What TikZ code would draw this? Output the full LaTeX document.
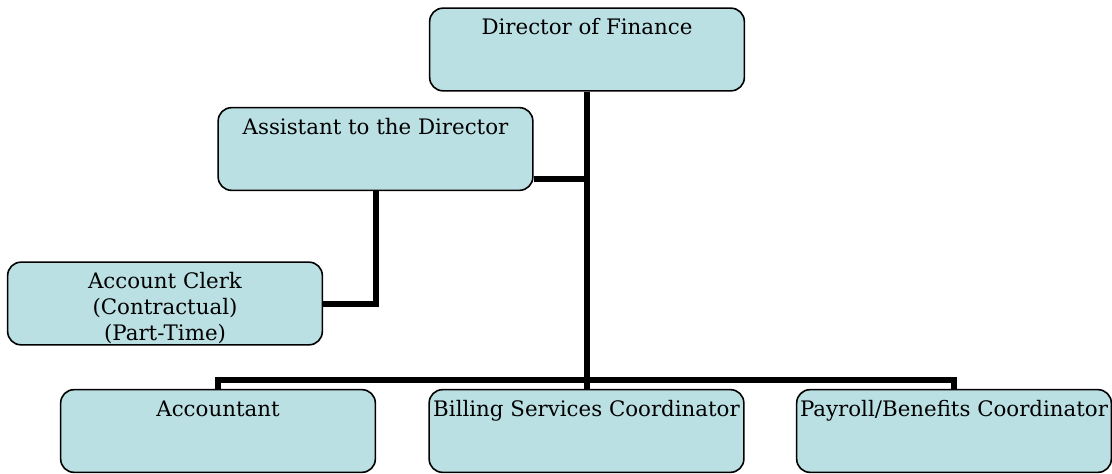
\documentclass[tikz,border=0pt]{standalone}
\usepackage{fontspec}
\setmainfont{DejaVu Serif}
\usetikzlibrary{calc}
\definecolor{boxblue}{RGB}{187,224,227}
\tikzstyle{post} = [draw, rounded corners=10pt, fill=boxblue, line width=1.2pt,
  minimum width=236pt, minimum height=62pt, inner sep=0pt]
\tikzstyle{title} = [anchor=north, align=center, inner sep=0pt, text height=0.73em, yshift=-13pt]
\tikzstyle{link} = [line width=4.5pt]

\begin{document}
\begin{tikzpicture}[x=0.75pt,y=-0.75pt,font=\fontsize{16}{19.5}\selectfont]
  \useasboundingbox (0,0) rectangle (1112,474);
  \coordinate (Bus) at (586,380);

  % the posts, top down
  \node[post, label={[title]north:Director of Finance}] (dir) at (587,49.5) {};
  \node[post, label={[title]north:Assistant to the Director}] (asst) at (375.5,149) {};
  \node[post, label={[align=center, inner sep=0pt, yshift=-3.5pt]center:Account Clerk\\(Contractual)\\(Part-Time)}] (clerk) at (165,303.5) {};
  \node[post, label={[title]north:Accountant}] (acct) at (218,431) {};
  \node[post, label={[title]north:Billing Services Coordinator}] (bill) at (586.5,431) {};
  \node[post, label={[title]north:Payroll/Benefits Coordinator}] (pay) at (954,431) {};

  % reporting lines
  \coordinate (AsstOut) at ($(asst.south east)+(0,-12)$);
  \draw[link] (dir.south) -- (dir.south |- bill.north);
  \draw[link] (acct.north) |- (Bus) -| (pay.north);
  \draw[link] (AsstOut) -- (AsstOut -| dir.south);
  \draw[link] (asst.south) |- (clerk.east);
\end{tikzpicture}
\end{document}
